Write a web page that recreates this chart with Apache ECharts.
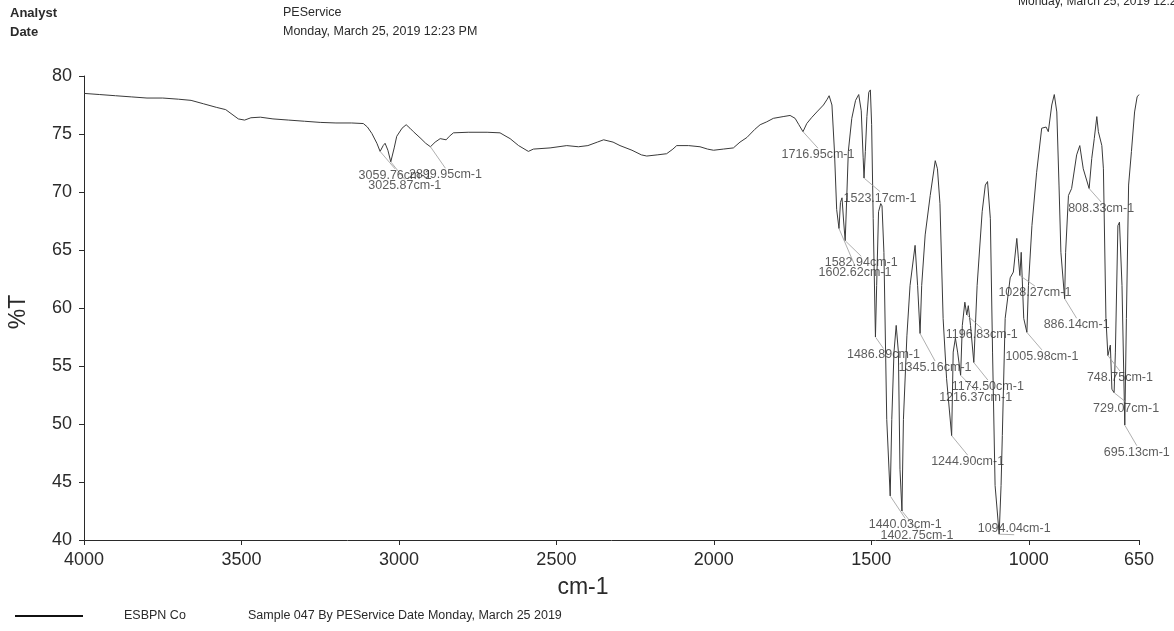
<!DOCTYPE html>
<html>
<head>
<meta charset="utf-8">
<script src="https://cdn.jsdelivr.net/npm/echarts@6/dist/echarts.min.js"></script>
<style>
html,body{margin:0;padding:0;background:#fff;}
#chart{width:1174px;height:631px;}
</style>
</head>
<body>
<div id="chart"></div>
<script>
// ---- data ----
const wavenumbers = [
  4000, 3950, 3900, 3850, 3800, 3750, 3700, 3660, 3620, 3580, 3550, 3530, 3510, 3490, 3470, 3440, 3400, 3350, 3300, 3250, 3200, 3150,
  3113, 3100, 3086, 3070, 3059.76, 3050, 3044, 3035, 3025.87, 3015, 3007, 2990, 2977, 2965, 2954, 2930, 2915, 2899.95, 2885, 2869, 2850, 2840, 2827,
  2780, 2720, 2679, 2660, 2647, 2620, 2589, 2573, 2520, 2467, 2430, 2400, 2370, 2350, 2320, 2298, 2260, 2230, 2213, 2180, 2150, 2130, 2118,
  2080, 2044, 2020, 2001, 1970, 1938, 1917, 1895, 1870, 1853, 1832, 1811, 1780, 1758, 1742, 1730, 1716.95, 1705, 1690, 1673, 1652, 1640, 1634,
  1625, 1617, 1610, 1602.62, 1598, 1593, 1588, 1582.94, 1578, 1573, 1562, 1550, 1540, 1532, 1526, 1523.17, 1519, 1514, 1508, 1503, 1499, 1494,
  1486.89, 1483, 1477, 1470, 1466, 1460, 1451, 1440.03, 1435, 1428, 1421, 1414, 1409, 1402.75, 1398, 1387, 1377, 1361, 1353, 1345.16, 1340,
  1329, 1313, 1297, 1290, 1282, 1272, 1261, 1244.90, 1240, 1233, 1226, 1216.37, 1211, 1203, 1196.83, 1192, 1185, 1174.50, 1164, 1148, 1138,
  1131, 1122, 1115, 1107, 1094.04, 1088, 1084, 1075, 1059, 1049, 1038, 1033, 1028.27, 1024, 1016, 1005.98, 1001, 990, 975, 959, 945, 938, 927,
  919, 911, 904, 898, 886.14, 883, 874, 864, 848, 838, 827, 808.33, 800, 792, 784, 779, 768, 763, 755, 748.75, 741, 736, 729.07, 725, 717, 712,
  704, 695.13, 690, 683, 674, 664, 656, 650
];
const transmittance = [
  78.5, 78.4, 78.3, 78.2, 78.1, 78.1, 78.0, 77.9, 77.6, 77.3, 77.1, 76.7, 76.3, 76.2, 76.4, 76.45, 76.3, 76.2, 76.1, 76.0, 75.95, 75.95,
  75.9, 75.6, 75.05, 74.2, 73.5, 74.0, 74.2, 73.6, 72.6, 73.8, 74.8, 75.5, 75.8, 75.5, 75.2, 74.6, 74.2, 73.9, 74.3, 74.6, 74.5, 74.8, 75.1,
  75.15, 75.15, 75.1, 74.8, 74.6, 74.0, 73.5, 73.7, 73.8, 74.0, 73.9, 74.0, 74.3, 74.5, 74.3, 74.0, 73.6, 73.2, 73.1, 73.2, 73.3, 73.7, 74.0,
  74.0, 73.9, 73.7, 73.6, 73.7, 73.8, 74.3, 74.7, 75.4, 75.8, 76.05, 76.35, 76.5, 76.6, 76.35, 75.8, 75.2, 75.9, 76.4, 76.9, 77.5, 78.0, 78.3,
  77.5, 73.5, 68.5, 66.85, 69.1, 69.5, 67.5, 65.8, 69.5, 73.5, 76.35, 77.9, 78.4, 77.0, 73.0, 71.2, 73.5, 76.5, 78.6, 78.8, 75.8, 67.7,
  57.5, 61.95, 68.3, 69.0, 68.8, 64.8, 50.4, 43.8, 50.4, 56.2, 58.5, 56.2, 46.1, 42.5, 50.4, 57.6, 61.95, 65.4, 61.95, 57.8, 61.95,
  66.3, 69.7, 72.7, 72.0, 69.0, 59.1, 53.9, 49.0, 56.2, 57.4, 56.2, 54.2, 58.5, 60.5, 59.4, 60.2, 58.5, 55.3, 61.95, 68.3, 70.6,
  70.9, 67.7, 56.2, 44.7, 40.5, 44.7, 49.0, 59.1, 62.6, 63.1, 66.0, 64.3, 62.8, 64.8, 59.1, 57.9, 61.95, 67.1, 71.7, 75.5, 75.6, 75.2, 77.5,
  78.4, 76.9, 70.6, 64.8, 60.8, 64.8, 69.7, 70.3, 73.2, 74.0, 72.0, 70.3, 72.9, 74.6, 76.5, 75.2, 74.0, 72.0, 59.1, 55.9, 56.8, 53.0, 52.7, 56.2, 67.1, 67.4,
  61.95, 49.9, 59.1, 70.6, 73.5, 76.9, 78.2, 78.4
];
const peakWavenumbers = [3059.76, 3025.87, 2899.95, 1716.95, 1602.62, 1582.94, 1523.17, 1486.89, 1440.03, 1402.75, 1345.16,
  1244.90, 1216.37, 1196.83, 1174.50, 1094.04, 1028.27, 1005.98, 886.14, 808.33, 748.75, 729.07, 695.13];
const peakTransmittance = [73.5, 72.6, 73.9, 75.2, 66.85, 65.8, 71.2, 57.5, 43.8, 42.5, 57.8,
  49.0, 54.2, 59.4, 55.3, 40.5, 62.8, 57.9, 60.8, 70.3, 55.9, 52.7, 49.9];
const xTickValues = [4000, 3500, 3000, 2500, 2000, 1500, 1000, 650];
const yMin = 40, yMax = 80, yStep = 5;

// ---- label placement (style, not data) ----
const peakLabelOffsets = [[15,24],[14,24],[15,28],[15,23],[16,44],[16,22],[16,20],[8,18],[15,29],[15,25],[15,34],
  [16,26],[15,22],[15,20],[14,24],[15,-6],[15,17],[15,24],[12,26],[12,20],[12,22],[12,16],[12,27]];

const FONT = '"Liberation Sans", Arial, Helvetica, sans-serif';
const INK = '#2a2a2a';

const spectrum = wavenumbers.map((w, i) => [w, transmittance[i]]);
const peaks = peakWavenumbers.map((w, i) => ({ value: [w, peakTransmittance[i]], name: w.toFixed(2) + 'cm-1' }));

const chart = echarts.init(document.getElementById('chart'), null, { renderer: 'canvas' });

const txt = (text, x, y, size, extra, weight) => ({
  type: 'text', x: x, y: y,
  style: Object.assign({ text: text, font: (weight ? weight + ' ' : '') + size + 'px ' + FONT, fill: INK, verticalAlign: 'middle', align: 'left' }, extra || {})
});

chart.setOption({
  backgroundColor: '#fff',
  animation: false,
  grid: { left: 84, right: 35, top: 76, bottom: 91, containLabel: false },
  xAxis: {
    type: 'value', min: 650, max: 4000, inverse: true,
    axisLine: { show: true, lineStyle: { color: INK, width: 1 } },
    axisTick: { show: true, customValues: xTickValues, length: 5, lineStyle: { color: INK } },
    axisLabel: { customValues: xTickValues, fontSize: 18, color: INK, fontFamily: FONT, margin: 11,
      formatter: v => String(v) },
    splitLine: { show: false }
  },
  yAxis: {
    type: 'value', min: yMin, max: yMax, interval: yStep,
    axisLine: { show: true, lineStyle: { color: INK, width: 1 } },
    axisTick: { show: true, length: 5, lineStyle: { color: INK } },
    axisLabel: { fontSize: 18, color: INK, fontFamily: FONT, margin: 12, formatter: v => String(v) },
    splitLine: { show: false }
  },
  series: [
    {
      name: 'ESBPN Co', type: 'line', data: spectrum, showSymbol: false, symbol: 'none',
      lineStyle: { color: '#3a3a3a', width: 1 }, z: 2
    },
    {
      name: 'peaks', type: 'scatter', data: peaks, symbolSize: 1,
      itemStyle: { color: 'rgba(0,0,0,0)' },
      label: {
        show: true, position: 'inside', formatter: p => p.name,
        fontSize: 12.5, fontFamily: FONT, color: '#333'
      },
      labelLayout: function (params) {
        const o = peakLabelOffsets[params.dataIndex];
        return { dx: o[0], dy: o[1] };
      },
      labelLine: { show: true, lineStyle: { color: '#9a9a9a', width: 0.8 } },
      z: 3
    }
  ],
  graphic: [
    txt('Analyst', 10, 13, 13, null, 'bold'),
    txt('Date', 10, 32, 13, null, 'bold'),
    txt('PEService', 283, 13, 12.5),
    txt('Monday, March 25, 2019 12:23 PM', 283, 32, 12.5),
    txt('Monday, March 25, 2019 12:23 PM', 1018, 2, 12),
    txt('cm-1', 583, 588, 23, { align: 'center' }),
    { type: 'text', x: 19, y: 312, rotation: Math.PI / 2,
      style: { text: '%T', font: '23px ' + FONT, fill: INK, align: 'center', verticalAlign: 'middle' } },
    { type: 'line', shape: { x1: 15, y1: 616, x2: 83, y2: 616 }, style: { stroke: '#111', lineWidth: 2 } },
    txt('ESBPN Co', 124, 616, 12.5),
    txt('Sample 047 By PEService Date Monday, March 25 2019', 248, 616, 12.5)
  ]
});
</script>
</body>
</html>
